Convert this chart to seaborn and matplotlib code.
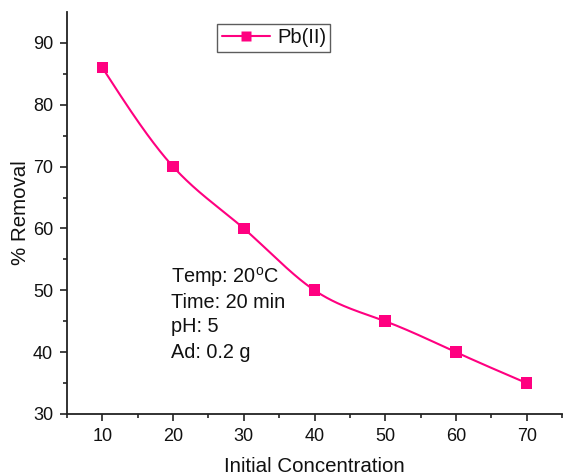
import numpy as np
import pandas as pd
import seaborn as sns
import matplotlib
matplotlib.use("Agg")
import matplotlib.pyplot as plt
from matplotlib.lines import Line2D

# Removal efficiency versus initial concentration
concentration = [10, 20, 30, 40, 50, 60, 70]
removal = [86, 70, 60, 50, 45, 40, 35]
series_name = "Pb(II)"
conditions = ["Temp: 20$^{\\mathrm{o}}$C", "Time: 20 min", "pH: 5", "Ad: 0.2 g"]

COLOR = "#FF0080"
INK = "#111111"

sns.set_theme(style="ticks")
plt.rcParams["font.family"] = ["Liberation Sans", "DejaVu Sans"]
plt.rcParams["mathtext.fontset"] = "custom"
plt.rcParams["mathtext.rm"] = "Liberation Sans"
plt.rcParams["text.color"] = INK
plt.rcParams["axes.labelcolor"] = INK
plt.rcParams["xtick.labelcolor"] = INK
plt.rcParams["ytick.labelcolor"] = INK


def natural_cubic_spline(x, y, n=400):
    x = np.asarray(x, float)
    y = np.asarray(y, float)
    k = len(x)
    h = np.diff(x)
    A = np.zeros((k, k))
    b = np.zeros(k)
    A[0, 0] = A[-1, -1] = 1.0
    for i in range(1, k - 1):
        A[i, i - 1] = h[i - 1]
        A[i, i] = 2 * (h[i - 1] + h[i])
        A[i, i + 1] = h[i]
        b[i] = 6 * ((y[i + 1] - y[i]) / h[i] - (y[i] - y[i - 1]) / h[i - 1])
    M = np.linalg.solve(A, b)
    xs = np.linspace(x[0], x[-1], n)
    idx = np.clip(np.searchsorted(x, xs) - 1, 0, k - 2)
    x0, x1 = x[idx], x[idx + 1]
    hh = x1 - x0
    t0 = x1 - xs
    t1 = xs - x0
    ys = (M[idx] * t0 ** 3 + M[idx + 1] * t1 ** 3) / (6 * hh) \
        + (y[idx] / hh - M[idx] * hh / 6) * t0 \
        + (y[idx + 1] / hh - M[idx + 1] * hh / 6) * t1
    return xs, ys


df = pd.DataFrame({"conc": concentration, "removal": removal})
xs, ys = natural_cubic_spline(concentration, removal)
curve = pd.DataFrame({"conc": xs, "removal": ys})

fig = plt.figure(figsize=(5.65, 4.76), dpi=100)
ax = fig.add_axes([67 / 565, 1 - 414 / 476, (562 - 67) / 565, (414 - 12) / 476])

sns.lineplot(data=curve, x="conc", y="removal", ax=ax, color=COLOR,
             linewidth=1.5, sort=False)
sns.scatterplot(data=df, x="conc", y="removal", ax=ax, color=COLOR,
                marker="s", s=70, edgecolor="none", zorder=3)

ax.set_xlim(5, 75)
ax.set_ylim(30, 95)
ax.set_xticks(concentration)
ax.set_xticks(np.arange(5, 76, 10), minor=True)
ax.set_yticks(np.arange(30, 91, 10))
ax.set_yticks(np.arange(35, 95, 10), minor=True)
ax.tick_params(axis="both", which="major", direction="out", length=5,
               width=1.2, labelsize=13, color="#222222", pad=5)
ax.tick_params(axis="both", which="minor", direction="out", length=3,
               width=1.2, color="#222222")
for side in ("top", "right"):
    ax.spines[side].set_visible(False)
for side in ("left", "bottom"):
    ax.spines[side].set_linewidth(1.3)
    ax.spines[side].set_color("#222222")

ax.set_xlabel("Initial Concentration", fontsize=14.8, labelpad=9)
ax.set_ylabel("% Removal", fontsize=14.8, labelpad=2)

handle = Line2D([], [], color=COLOR, marker="s", markersize=7,
                markeredgecolor="none", linewidth=1.5)
leg = ax.legend([handle], [series_name], loc="upper left",
                bbox_to_anchor=(0.304, 0.969), fontsize=14.5, frameon=True,
                fancybox=False, edgecolor="#333333", handlelength=2.4,
                borderpad=0.2, handletextpad=0.35, borderaxespad=0)
leg.get_frame().set_linewidth(1.0)

for i, line in enumerate(conditions):
    ax.text(171, 476 - (277 + 25 * i), line, transform=None, fontsize=14.3,
            va="center", ha="left")

fig.savefig("out.png", dpi=100)
